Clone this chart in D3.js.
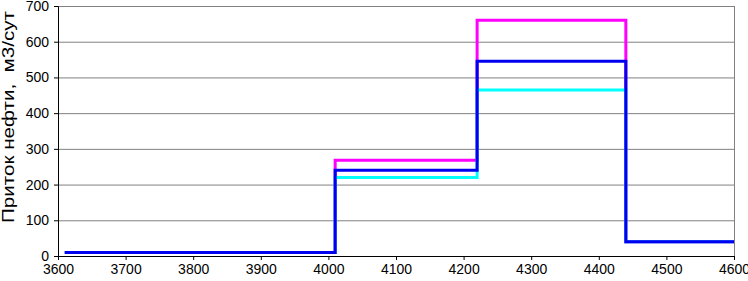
<!DOCTYPE html>
<html>
<head>
<meta charset="utf-8">
<script src="https://cdn.jsdelivr.net/npm/d3@7"></script>
<style>
  body { margin: 0; background: #fff; }
  svg { display: block; font-family: "Liberation Sans", Arial, sans-serif; }
</style>
</head>
<body>
<div id="chart"></div>
<script>
// Stufenkurven: Tiefe (x) gegen Zufluss (y)
const stepDepths = [3610, 4010, 4220, 4440, 4600];
const magentaValues = [10, 268, 660, 40];
const cyanValues = [10, 220, 465, 40];
const blueValues = [10, 240, 545, 40];
const xTickValues = [3600, 3700, 3800, 3900, 4000, 4100, 4200, 4300, 4400, 4500, 4600];
const yTickValues = [0, 100, 200, 300, 400, 500, 600, 700];
const yTitle = 'Приток нефти,  м3/сут';

const W = 748, H = 281;
const margin = { top: 6, right: 14, bottom: 25, left: 58 };

const svg = d3.select('#chart').append('svg')
  .attr('width', W).attr('height', H);

const x = d3.scaleLinear().domain([3600, 4600]).range([margin.left, W - margin.right]);
const y = d3.scaleLinear().domain([0, 700]).range([H - margin.bottom, margin.top]);

// Gitter
svg.append('g').attr('class', 'grid')
  .selectAll('line')
  .data(yTickValues.filter(d => d > 0))
  .join('line')
  .attr('x1', x.range()[0]).attr('x2', x.range()[1])
  .attr('y1', d => y(d) + 0.5).attr('y2', d => y(d) + 0.5)
  .attr('stroke', '#808080').attr('stroke-width', 1);

// rechter Rahmen
svg.append('line')
  .attr('x1', x.range()[1] + 0.5).attr('x2', x.range()[1] + 0.5)
  .attr('y1', y(700)).attr('y2', y(0))
  .attr('stroke', '#808080');

// Achsen
const xAxis = d3.axisBottom(x).tickValues(xTickValues).tickSize(4).tickPadding(4).tickFormat(d3.format('d'));
const yAxis = d3.axisLeft(y).tickValues(yTickValues).tickSize(4).tickPadding(5).tickFormat(d3.format('d'));

svg.append('g')
  .attr('transform', `translate(0,${y(0)})`)
  .call(xAxis)
  .call(g => {
    g.select('.domain').attr('stroke', '#000');
    g.selectAll('.tick line').attr('stroke', '#000');
    g.selectAll('text').attr('font-size', 14).attr('fill', '#000')
      .attr('font-family', '"Liberation Sans", Arial, sans-serif');
  });

svg.append('g')
  .attr('transform', `translate(${x(3600)},0)`)
  .call(yAxis)
  .call(g => {
    g.select('.domain').attr('stroke', '#000');
    g.selectAll('.tick line').attr('stroke', '#000');
    g.selectAll('text').attr('font-size', 14).attr('fill', '#000')
      .attr('font-family', '"Liberation Sans", Arial, sans-serif');
  });

// Stufenlinien
function stepPoints(values) {
  const pts = [];
  values.forEach((v, i) => {
    pts.push([stepDepths[i], v]);
    pts.push([stepDepths[i + 1], v]);
  });
  return pts;
}

const line = d3.line().x(d => x(d[0])).y(d => y(d[1]));

const series = [
  { values: magentaValues, color: '#ff00ff' },
  { values: cyanValues, color: '#00ffff' },
  { values: blueValues, color: '#0000f0' },
];

svg.append('g').attr('class', 'lines')
  .selectAll('path')
  .data(series)
  .join('path')
  .attr('d', d => line(stepPoints(d.values)))
  .attr('fill', 'none')
  .attr('stroke', d => d.color)
  .attr('stroke-width', 3)
  .attr('stroke-linejoin', 'miter');

// Achsentitel
svg.append('text')
  .attr('transform', `translate(10,117) rotate(-90)`)
  .attr('text-anchor', 'middle')
  .attr('dominant-baseline', 'middle')
  .attr('font-size', 16)
  .attr('fill', '#000')
  .attr('textLength', 212)
  .attr('lengthAdjust', 'spacingAndGlyphs')
  .style('white-space', 'pre')
  .text(yTitle);
</script>
</body>
</html>
